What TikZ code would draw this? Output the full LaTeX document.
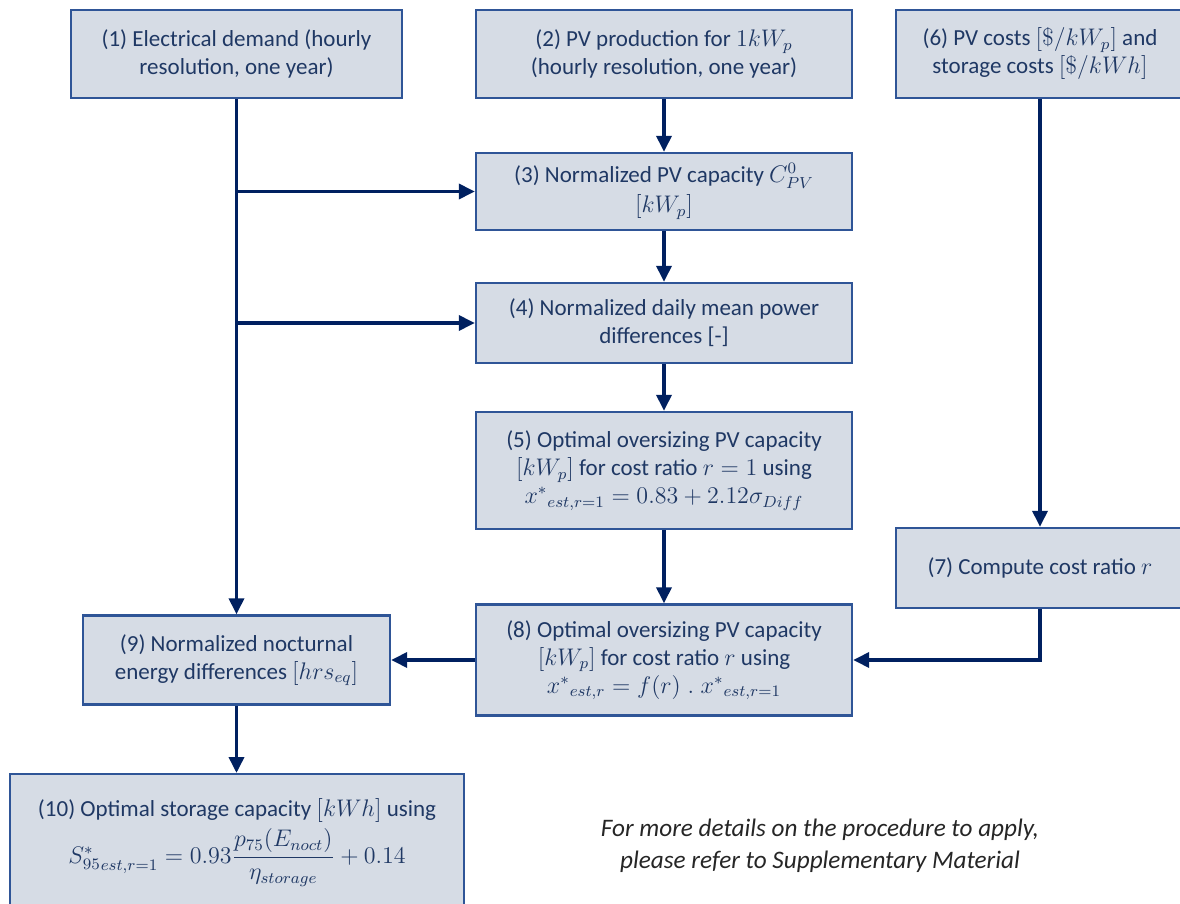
\documentclass[tikz,border=0pt]{standalone}
\usepackage{amsmath}
\usepackage{fontspec}
\setmainfont{Carlito}
\usepackage{tikz}
\usetikzlibrary{arrows.meta, positioning}
\definecolor{flowFill}{HTML}{D6DCE5}
\definecolor{flowEdge}{HTML}{2F5597}
\definecolor{flowText}{HTML}{1F3864}
\definecolor{flowArrow}{HTML}{002060}

\begin{document}
\begin{tikzpicture}[
  x=0.5pt, y=-0.5pt,
  font=\fontsize{11.5}{14}\selectfont,
  blk/.style={draw=flowEdge, line width=1.2pt, fill=flowFill, text=flowText,
              align=center, inner sep=2pt, minimum width=188pt},
  a/.style={-{Triangle[length=8pt, width=7.5pt]}, line width=1.8pt, draw=flowArrow}
]
\useasboundingbox (0,0) rectangle (1180,904);
\node[blk, minimum width=165.5pt, minimum height=44pt] (demand) at (236.5,54)
  {(1) Electrical demand (hourly\\resolution, one year)};
\node[blk, minimum height=44pt] (prod) at (664,54)
  {(2) PV production for $1kW_p$\\(hourly resolution, one year)};
\node[blk, minimum width=144pt, minimum height=44pt] (costs) at (1040,54)
  {(6) PV costs $[\$/kW_p]$ and\\storage costs $[\$/kWh]$};
\node[blk, minimum height=38.5pt] (norm) at (664,191.5)
  {(3) Normalized PV capacity $C_{PV}^{0}$\\[1pt]$[kW_p]$};
\node[blk, minimum height=40pt] (diff) at (664,323)
  {(4) Normalized daily mean power\\differences [-]};
\node[blk, minimum height=58.5pt] (over) at (664,470.5)
  {(5) Optimal oversizing PV capacity\\$[kW_p]$ for cost ratio $r=1$ using\\
   ${x^*}_{est,r=1} = 0.83 + 2.12\sigma_{Diff}$};
\node[blk, minimum width=144pt, minimum height=40pt] (ratio) at (1040,568)
  {(7) Compute cost ratio $r$};
\node[blk, minimum height=55.5pt] (opt) at (664,660)
  {(8) Optimal oversizing PV capacity\\$[kW_p]$ for cost ratio $r$ using\\
   ${x^*}_{est,r} = f(r)\;.\;{x^*}_{est,r=1}$};
\node[blk, minimum width=153.5pt, minimum height=44.5pt] (noct) at (236.5,660)
  {(9) Normalized nocturnal\\energy differences $[hrs_{eq}]$};
\node[blk, minimum width=227pt, minimum height=68.5pt, anchor=north] (stor) at (237,773)
  {(10) Optimal storage capacity $[kWh]$ using\\[2pt]
   ${S^*_{95}}_{est,r=1} = 0.93\dfrac{p_{75}(E_{noct})}{\eta_{storage}} + 0.14$};
\node[align=center, font=\fontsize{12.6}{16}\selectfont\itshape, text=black!85] (note) at (820,846)
  {For more details on the procedure to apply,\\please refer to Supplementary Material};

\draw[a] (demand) -- (noct);
\draw[a] (demand.south |- norm.west) -- (norm.west);
\draw[a] (demand.south |- diff.west) -- (diff.west);
\draw[a] (prod) -- (norm);
\draw[a] (norm) -- (diff);
\draw[a] (diff) -- (over);
\draw[a] (over) -- (opt);
\draw[a] (costs) -- (ratio);
\draw[a] (ratio.south) |- (opt.east);
\draw[a] (opt) -- (noct);
\draw[a] (noct.south) -- (noct.south |- stor.north);
\end{tikzpicture}
\end{document}
